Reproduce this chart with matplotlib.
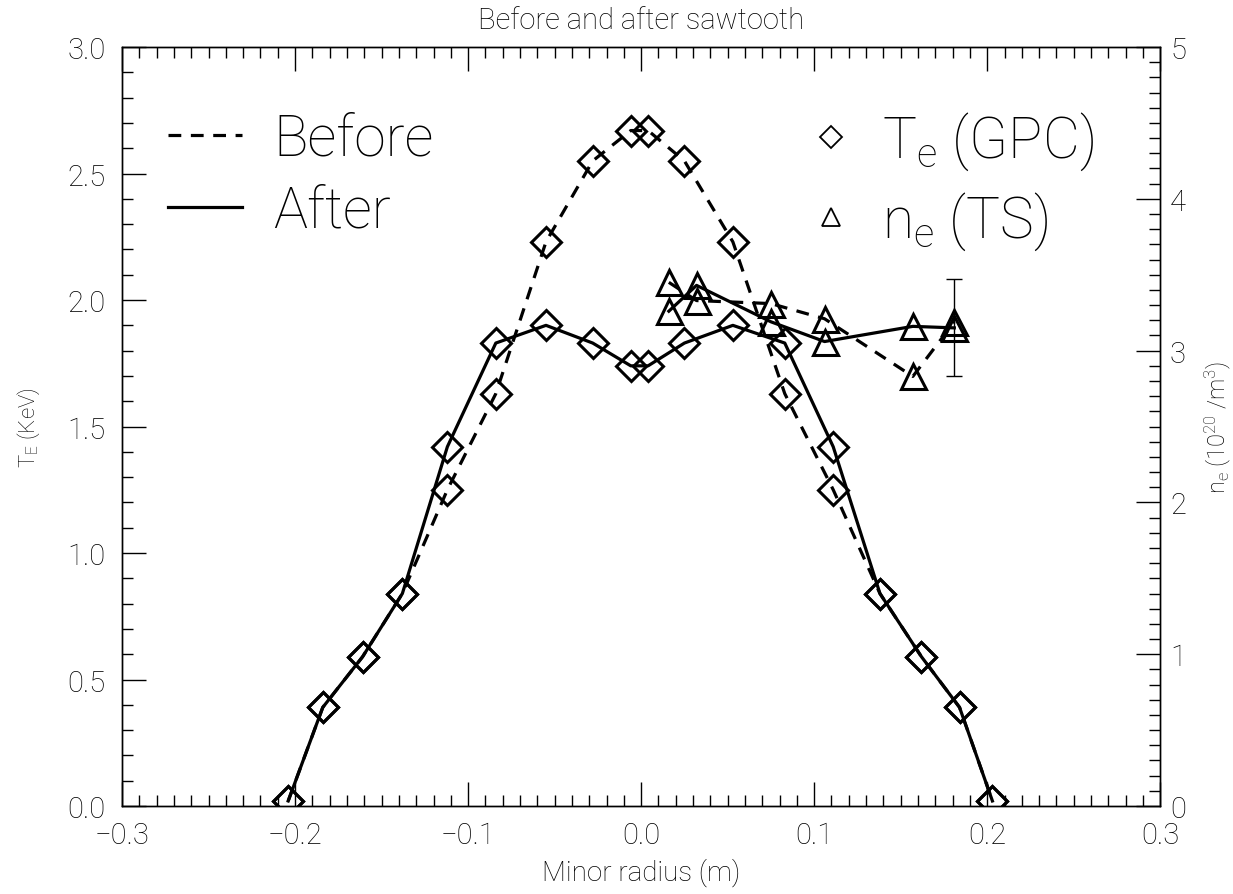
#!/usr/bin/env python

import numpy as np
import matplotlib
matplotlib.use('Agg')
import matplotlib.pyplot as plt
from matplotlib.lines import Line2D
from matplotlib.ticker import MultipleLocator, FuncFormatter

# GPC channel positions (m) and electron temperature (keV)
r_gpc = [-0.204, -0.184, -0.161, -0.138, -0.112, -0.084, -0.055, -0.028, -0.006,
         0.004, 0.025, 0.053, 0.083, 0.111, 0.138, 0.162, 0.184, 0.203]
te_before = [0.02, 0.39, 0.59, 0.84, 1.25, 1.63, 2.23, 2.55, 2.67,
             2.67, 2.55, 2.23, 1.63, 1.25, 0.84, 0.59, 0.39, 0.02]
te_after = [0.02, 0.39, 0.59, 0.84, 1.42, 1.83, 1.90, 1.83, 1.74,
            1.74, 1.83, 1.90, 1.83, 1.42, 0.84, 0.59, 0.39, 0.02]

# Thomson scattering positions (m) and density (10^20 /m^3)
r_ts = [0.016, 0.032, 0.075, 0.106, 0.157, 0.181]
ne_before = [3.45, 3.33, 3.31, 3.21, 2.83, 3.19]
ne_after = [3.26, 3.43, 3.19, 3.06, 3.16, 3.15]
ne_err = 0.32   # only the last point carries an error bar

plt.rcParams['font.family'] = ['Roboto', 'DejaVu Sans']
plt.rcParams['font.weight'] = 'light'
plt.rcParams['axes.titleweight'] = 'light'
plt.rcParams['axes.labelweight'] = 'light'
plt.rcParams['mathtext.fontset'] = 'custom'
plt.rcParams['mathtext.rm'] = 'Roboto:light'
plt.rcParams['mathtext.default'] = 'rm'

fig = plt.figure(figsize=(12.33, 8.95), dpi=100)
ax = fig.add_axes([0.099, 0.0983, 0.842, 0.848])

lw = 2.3
dash = (0, (4, 3))

def fmt1(v, pos):
    return ('%.1f' % v).replace('-', '\u2212')

# temperature profiles
ax.plot(r_gpc, te_before, color='k', lw=lw, ls=dash, marker='D', ms=15,
        mfc='none', mew=2.2)
ax.plot(r_gpc, te_after, color='k', lw=lw, ls='-', marker='D', ms=15,
        mfc='none', mew=2.2)

ax.set_xlim(-0.3, 0.3)
ax.set_ylim(0.0, 3.0)
ax.xaxis.set_major_locator(MultipleLocator(0.1))
ax.xaxis.set_minor_locator(MultipleLocator(0.01))
ax.yaxis.set_major_locator(MultipleLocator(0.5))
ax.yaxis.set_minor_locator(MultipleLocator(0.1))
ax.xaxis.set_major_formatter(FuncFormatter(fmt1))
ax.yaxis.set_major_formatter(FuncFormatter(fmt1))
ax.tick_params(which='both', direction='in', top=True, right=False,
               labelsize=21, width=1)
ax.tick_params(which='major', length=17)
ax.tick_params(which='minor', length=8)
ax.tick_params(axis='x', pad=11)
ax.tick_params(axis='y', pad=12)

ax.set_xlabel('Minor radius (m)', fontsize=20, labelpad=6)
ax.set_ylabel('T$_E$ (KeV)', fontsize=16, labelpad=18)
ax.set_title('Before and after sawtooth', fontsize=21, pad=14)

# density on the right axis
ax2 = ax.twinx()
ax2.plot(r_ts, ne_before, color='k', lw=lw, ls=dash, marker='^', ms=18,
         mfc='none', mew=2.2)
ax2.plot(r_ts, ne_after, color='k', lw=lw, ls='-', marker='^', ms=18,
         mfc='none', mew=2.2)
ax2.errorbar(r_ts[-1], ne_after[-1], yerr=ne_err, color='k', lw=1,
             capsize=6, capthick=1)
ax2.set_ylim(0, 5)
ax2.yaxis.set_major_locator(MultipleLocator(1))
ax2.yaxis.set_minor_locator(MultipleLocator(0.1))
ax2.tick_params(which='both', direction='in', labelsize=21, width=1, pad=7)
ax2.tick_params(which='major', length=17)
ax2.tick_params(which='minor', length=8)
ax2.set_ylabel('n$_e$ (10$^{20}$ /m$^3$)', fontsize=17, labelpad=12)

for a in (ax, ax2):
    for s in a.spines.values():
        s.set_linewidth(1)

# legends: line style and marker meaning
style_handles = [Line2D([], [], color='k', lw=lw, ls=dash),
                 Line2D([], [], color='k', lw=lw, ls='-')]
leg1 = ax2.legend(style_handles, ['Before', 'After'], loc='upper left',
                  bbox_to_anchor=(0.136, 0.874), bbox_transform=fig.transFigure,
                  frameon=False, fontsize=41, handlelength=1.3,
                  handletextpad=0.55, labelspacing=0.3, borderpad=0,
                  borderaxespad=0)
ax2.add_artist(leg1)

marker_handles = [Line2D([], [], color='k', ls='none', marker='D', ms=11,
                         mfc='none', mew=1.3),
                  Line2D([], [], color='k', ls='none', marker='^', ms=13,
                         mfc='none', mew=1.3)]
ax2.legend(marker_handles, ['T$_e$ (GPC)', 'n$_e$ (TS)'], loc='upper right',
           bbox_to_anchor=(0.887, 0.876), bbox_transform=fig.transFigure,
           frameon=False, fontsize=41, handlelength=0.8, handletextpad=0.5,
           labelspacing=0.3, borderpad=0, borderaxespad=0)

fig.savefig('out.png', dpi=100)
